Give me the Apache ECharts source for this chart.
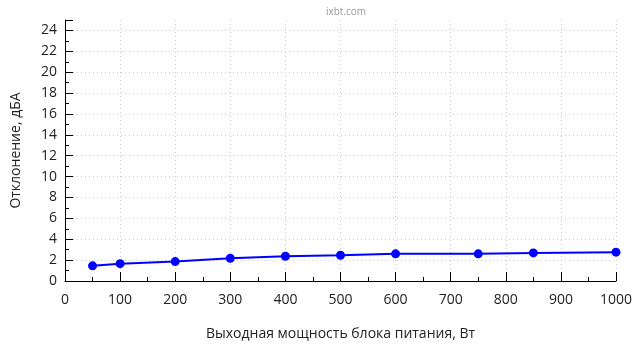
<!DOCTYPE html>
<html><head><meta charset="utf-8">
<script src="https://cdn.jsdelivr.net/npm/echarts@6/dist/echarts.min.js"></script>
<style>html,body{margin:0;padding:0;background:#fff}#c{width:640px;height:360px}</style>
</head><body><div id="c"></div>
<script>
const powerW = [50, 100, 200, 300, 400, 500, 600, 750, 850, 1000];
const deviationDbA = [1.45, 1.66, 1.86, 2.18, 2.37, 2.47, 2.6, 2.6, 2.69, 2.76];
const titleText = 'ixbt.com';
const xName = 'Выходная мощность блока питания, Вт';
const yName = 'Отклонение, дБА';

const font = '"Open Sans", "Noto Sans", sans-serif';
const chart = echarts.init(document.getElementById('c'), null, {renderer: 'canvas'});
chart.setOption({
  animation: false,
  title: {text: titleText, left: 341, top: 2, textAlign: 'center',
    textStyle: {fontSize: 10, fontWeight: 'normal', color: '#999', fontFamily: font}},
  grid: {left: 65, right: 24, top: 20, bottom: 79, containLabel: false, outerBoundsMode: 'none'},
  xAxis: {
    type: 'value', min: 0, max: 1000, interval: 100,
    name: xName, nameLocation: 'middle', nameGap: 46,
    nameTextStyle: {fontSize: 14, color: '#222', fontFamily: font},
    axisLine: {show: true, lineStyle: {color: '#000', width: 1}},
    axisTick: {show: true, inside: true, length: 9, lineStyle: {color: '#000'}},
    minorTick: {show: true, splitNumber: 2, length: 4, lineStyle: {color: '#000'}},
    axisLabel: {fontSize: 14, color: '#222', margin: 12, fontFamily: font, formatter: v => String(v)},
    splitLine: {show: true, showMinLine: false, lineStyle: {color: '#ccc', type: [1, 3]}}
  },
  yAxis: {
    type: 'value', min: 0, max: 25, interval: 2,
    name: yName, nameLocation: 'middle', nameGap: 42, nameRotate: 90,
    nameTextStyle: {fontSize: 14, color: '#222', fontFamily: font},
    axisLine: {show: true, lineStyle: {color: '#000', width: 1}},
    axisTick: {show: true, inside: true, length: 8, lineStyle: {color: '#000'}},
    minorTick: {show: true, splitNumber: 2, length: 4, lineStyle: {color: '#000'}},
    axisLabel: {fontSize: 14, color: '#222', margin: 8, fontFamily: font, showMaxLabel: false,
      formatter: v => (v % 2 === 0 ? String(v) : '')},
    splitLine: {show: true, showMinLine: false, showMaxLine: false, lineStyle: {color: '#ccc', type: [1, 3]}}
  },
  series: [{
    type: 'line',
    data: powerW.map((x, i) => [x, deviationDbA[i]]),
    symbol: 'circle', symbolSize: 9,
    lineStyle: {color: '#0000ff', width: 2},
    itemStyle: {color: '#0000ff'}
  }]
});
</script></body></html>
